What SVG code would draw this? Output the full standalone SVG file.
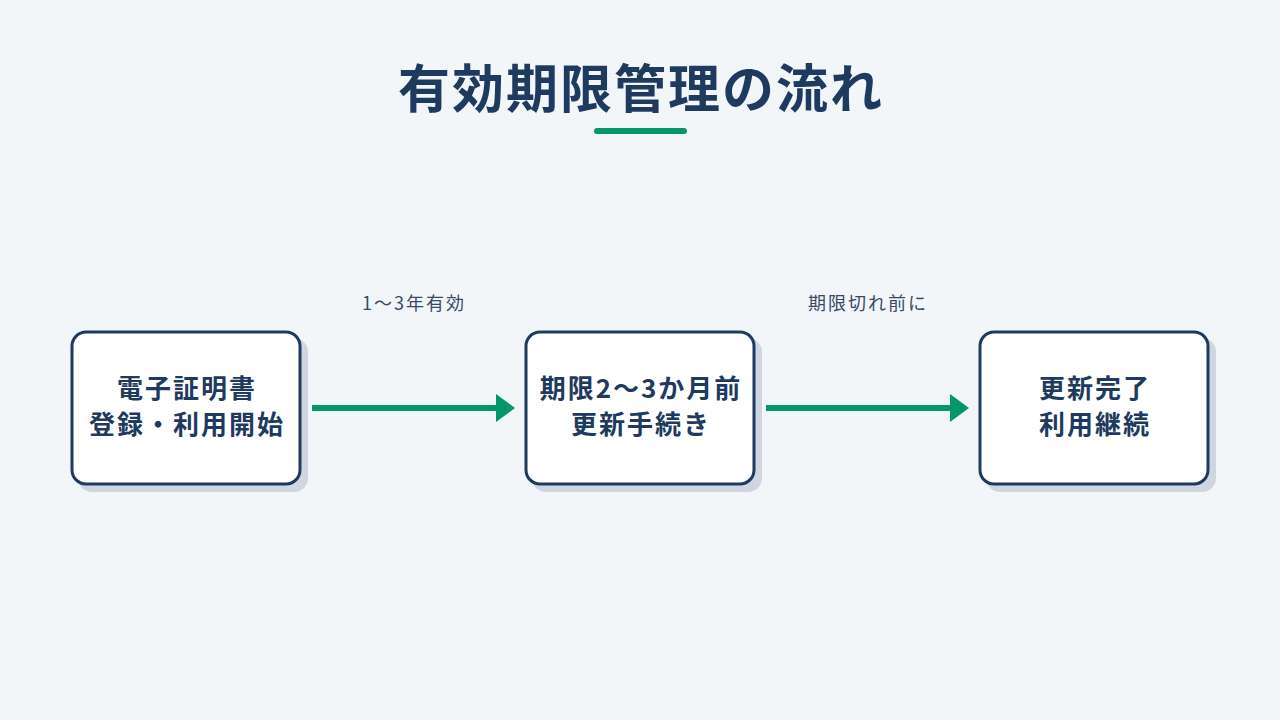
<svg xmlns="http://www.w3.org/2000/svg" width="1280" height="720" viewBox="0 0 1280 720">
<defs>
<style>
.bg{fill:#f3f6f9}
.title{font-family:"Noto Sans CJK JP","Noto Sans",sans-serif;font-weight:700;font-size:52px;letter-spacing:2px;fill:#1e3a5f;text-anchor:middle}
.shadow{fill:#cfd6e2}
.box{fill:#ffffff;stroke:#1e3a5f;stroke-width:3}
.nt{font-family:"Noto Sans CJK JP","Noto Sans",sans-serif;font-weight:700;font-size:26px;letter-spacing:2px;fill:#1e3a5f;text-anchor:middle}
.lbl{font-family:"Noto Sans CJK JP","Noto Sans",sans-serif;font-size:18px;letter-spacing:2px;fill:#3a4a66;text-anchor:middle}
.edge{stroke:#059669;stroke-width:6;fill:none}
.head{fill:#059669}
</style>
</defs>
<rect class="bg" x="0" y="0" width="1280" height="720"/>
<g id="title">
<text class="title" x="641" y="108">有効期限管理の流れ</text>
<rect x="594" y="128" width="93" height="6" rx="3" fill="#059669"/>
</g>
<g id="connectors">
<line class="edge" x1="312" y1="408" x2="498" y2="408"/>
<polygon class="head" points="496,394 515,408 496,422"/>
<text class="lbl" x="414" y="310">1〜3年有効</text>
<line class="edge" x1="766" y1="408" x2="952" y2="408"/>
<polygon class="head" points="950,394 969,408 950,422"/>
<text class="lbl" x="868" y="310">期限切れ前に</text>
</g>
<g id="node1">
<rect class="shadow" x="78" y="338" width="230" height="154" rx="14"/>
<rect class="box" x="72" y="332" width="228" height="152" rx="14"/>
<text class="nt" x="187" y="398">電子証明書</text>
<text class="nt" x="187" y="434">登録・利用開始</text>
</g>
<g id="node2">
<rect class="shadow" x="532" y="338" width="230" height="154" rx="14"/>
<rect class="box" x="526" y="332" width="228" height="152" rx="14"/>
<text class="nt" x="641" y="398">期限2〜3か月前</text>
<text class="nt" x="641" y="434">更新手続き</text>
</g>
<g id="node3">
<rect class="shadow" x="986" y="338" width="230" height="154" rx="14"/>
<rect class="box" x="980" y="332" width="228" height="152" rx="14"/>
<text class="nt" x="1095" y="398">更新完了</text>
<text class="nt" x="1095" y="434">利用継続</text>
</g>
</svg>
